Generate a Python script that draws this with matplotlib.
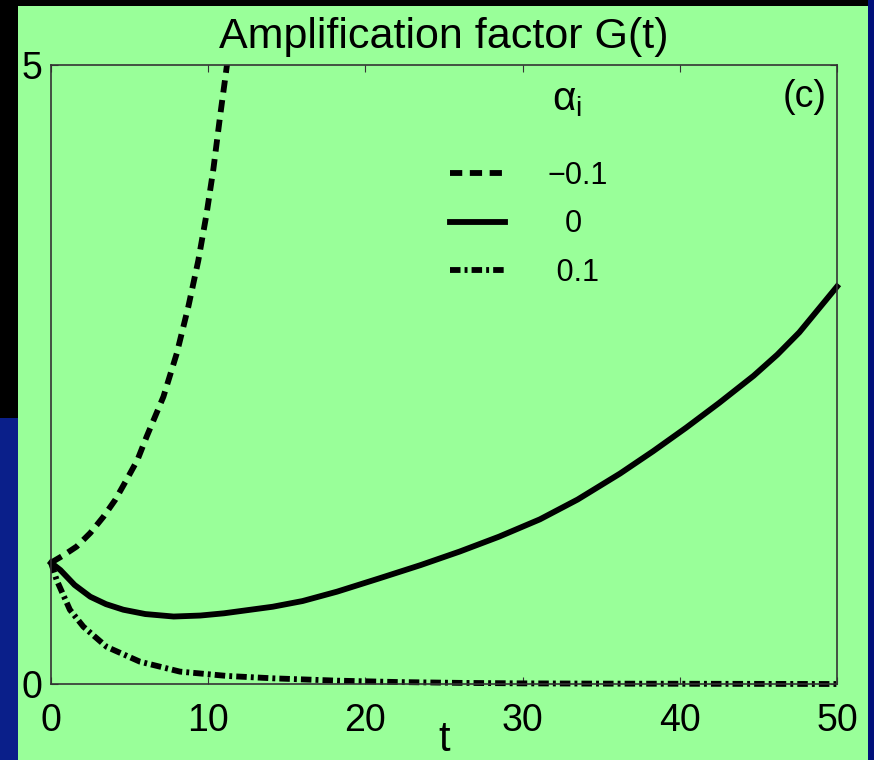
import matplotlib
matplotlib.use('Agg')
import matplotlib.pyplot as plt
from matplotlib.patches import Rectangle

# values
t_neg = [0, 0.8, 1.63, 2.5, 3.33, 4.1, 4.81, 5.5, 6.09, 7.15, 8.0, 8.74,
         9.37, 9.9, 10.33, 10.75, 11.1, 11.4]
g_neg = [0.98, 1.04, 1.11, 1.22, 1.35, 1.49, 1.65, 1.81, 2.0, 2.32, 2.67,
         3.05, 3.42, 3.80, 4.16, 4.58, 4.91, 5.2]

t_zero = [0, 0.6, 1.5, 2.5, 3.5, 4.6, 6, 7.8, 9.5, 11, 14.1, 16, 18.2, 20.9,
          23.5, 26, 28.5, 31.1, 33.5, 36.2, 38.3, 40.4, 42.5, 44.7, 46.2,
          47.6, 50]
g_zero = [0.98, 0.92, 0.80, 0.705, 0.645, 0.60, 0.565, 0.545, 0.553, 0.571,
          0.624, 0.67, 0.746, 0.854, 0.96, 1.07, 1.19, 1.33, 1.49, 1.70, 1.88,
          2.07, 2.27, 2.49, 2.66, 2.84, 3.21]

t_pos = [0, 0.36, 1.2, 2.06, 3.54, 5.66, 8.2, 11.2, 14.1, 18.2, 22, 26, 30,
         35, 40, 45, 50]
g_pos = [0.98, 0.84, 0.60, 0.463, 0.30, 0.18, 0.10, 0.065, 0.046, 0.027,
         0.016, 0.009, 0.005, 0.003, 0.002, 0.001, 0.0]

labels = ['\u22120.1', '  0', ' 0.1']
xticks = [0, 10, 20, 30, 40, 50]
yticks = [0, 5]

green = '#99ff99'
lw = 4.2
fs = 27

plt.rcParams['font.family'] = ['Liberation Sans', 'DejaVu Sans']

fig = plt.figure(figsize=(8.74, 7.6), dpi=100, facecolor='black')
# slide background
fig.patches.append(Rectangle((868/874, 0), 6/874, 1, transform=fig.transFigure,
                             facecolor='#00107a', edgecolor='none', zorder=-3))
fig.patches.append(Rectangle((0, 0), 18/874, 0.45, transform=fig.transFigure,
                             facecolor='#0a1f8a', edgecolor='none', zorder=-3))
fig.patches.append(Rectangle((18/874, 0), 850/874, 754/760, transform=fig.transFigure,
                             facecolor=green, edgecolor='none', zorder=-2))

ax = fig.add_axes([51/874, 76/760, 786/874, 619/760])
ax.set_facecolor(green)

ax.plot(t_neg, g_neg, color='k', lw=lw, dashes=(2.1, 1.3), label=labels[0])
ax.plot(t_zero, g_zero, color='k', lw=lw, label=labels[1], clip_on=False)
ax.plot(t_pos, g_pos, color='k', lw=lw, dashes=(1.8, 0.7, 0.5, 0.7),
        label=labels[2], clip_on=False)

ax.set_xlim(0, 50)
ax.set_ylim(0, 5)
ax.set_xticks(xticks)
ax.set_yticks(yticks)
ax.tick_params(direction='in', length=5, width=0.8, color='#333333',
               top=True, right=True, labelsize=fs)
ax.tick_params(axis='x', pad=14)
ax.tick_params(axis='y', pad=6)
for s in ax.spines.values():
    s.set_color('#333333')
    s.set_linewidth(1.2)

ax.set_title('Amplification factor G(t)', fontsize=31, pad=12)
ax.set_xlabel('t', fontsize=fs + 3, labelpad=-14)
ax.text(0.987, 0.948, '(c)', transform=ax.transAxes, ha='right', va='center',
        fontsize=fs)
ax.text(0.656, 0.943, '\u03b1$_\\mathregular{i}$', transform=ax.transAxes,
        ha='center', va='center', fontsize=29)

leg = ax.legend(loc='upper left', bbox_to_anchor=(0.5076, 0.845), frameon=False,
                fontsize=22, handlelength=1.8, handletextpad=1.4,
                labelspacing=0.6, borderpad=0, borderaxespad=0)

fig.savefig('out.png', dpi=100, facecolor=fig.get_facecolor())
